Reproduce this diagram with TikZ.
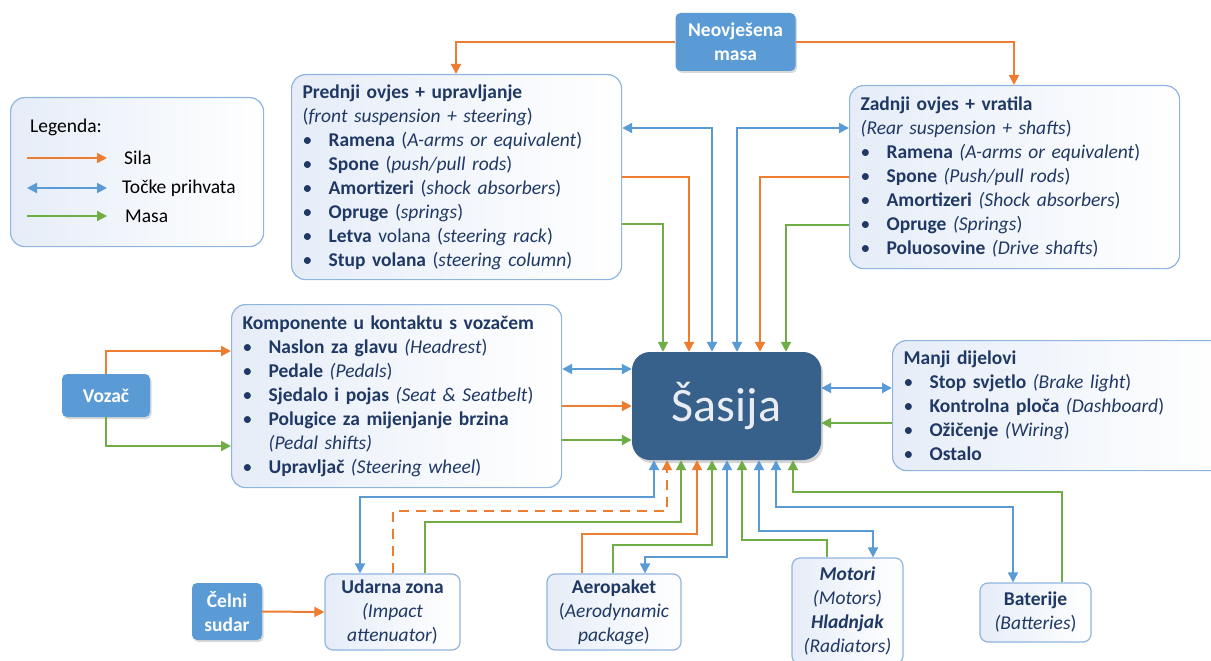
\documentclass[tikz,border=0pt]{standalone}
\usepackage{fontspec}
\setmainfont{Carlito}
\usetikzlibrary{positioning,calc,arrows.meta,shadows}
\definecolor{textNavy}{HTML}{1F3864}
\definecolor{boxLine}{HTML}{8FB4DE}
\definecolor{boxFill}{HTML}{E6EDF8}
\definecolor{fillBlue}{HTML}{5B9BD5}
\definecolor{chassisBlue}{HTML}{37608A}
\definecolor{chassisText}{HTML}{E8EDF3}
\definecolor{silaOrange}{HTML}{ED7D31}
\definecolor{tockeBlue}{HTML}{5B9BD5}
\definecolor{masaGreen}{HTML}{70AD47}
\newcommand{\bitem}[1]{\makebox[26pt][l]{\textbullet}#1}
\tikzset{
        boxnode/.style={text=textNavy, font=\fontsize{19.5}{24}\selectfont},
        % List boxes
        node_list/.style={boxnode, align=left, rectangle, rounded corners=14pt, draw=boxLine, line width=1.2pt, left color=boxFill, right color=white, anchor=north west, inner xsep=11pt, inner ysep=3pt},
        % Small part boxes
        node_part/.style={boxnode, align=center, rectangle, rounded corners=8pt, draw=boxLine, line width=1.2pt, left color=boxFill, right color=white, inner sep=2pt},
        % Filled source boxes
        node_source/.style={boxnode, align=center, rectangle, rounded corners=5pt, fill=fillBlue, text=white, font=\fontsize{19.5}{24}\selectfont\bfseries, inner sep=2pt, drop shadow={opacity=0.3, shadow xshift=1.5pt, shadow yshift=-2pt}},
        % Chassis
        node_chassis/.style={rectangle, rounded corners=18pt, fill=chassisBlue, text=chassisText, font=\fontsize{48}{56}\selectfont, drop shadow={opacity=0.35, shadow xshift=2pt, shadow yshift=-3pt}},
        % Legend text
        node_legend/.style={anchor=west, inner sep=0pt, font=\fontsize{19.5}{24}\selectfont}
}
\begin{document}
\begin{tikzpicture}[
            x=1pt, y=-1pt,
            >={Triangle[length=10pt,width=10pt]},
            arrow_force/.style={->, draw=silaOrange, line width=2pt},
            arrow_mount/.style={<->, draw=tockeBlue, line width=2pt},
            arrow_mass/.style={->, draw=masaGreen, line width=2pt}
        ]
            \useasboundingbox (0,0) rectangle (1211,661);
            \clip (0,0) rectangle (1211,661);

            % Legend
            \node[node_list, text width=231pt, minimum height=149pt] (legend) at (10,97) {};
            \node[node_legend] (lgTitle) at (30,127) {Legenda:};
            \node[node_legend] (lgSila) at (124,158) {Sila};
            \node[node_legend] (lgTocke) at (122,188) {Točke prihvata};
            \node[node_legend] (lgMasa) at (125,216) {Masa};
            \draw[arrow_force] ([xshift=-97pt]lgSila.west) -- ([xshift=-17pt]lgSila.west);
            \draw[arrow_mount] ([xshift=-95pt]lgTocke.west) -- ([xshift=-15pt]lgTocke.west);
            \draw[arrow_mass] ([xshift=-98pt]lgMasa.west) -- ([xshift=-18pt]lgMasa.west);

            % Chassis and sources
            \node[node_chassis, minimum width=189pt, minimum height=108pt] (sasija) at (726.5,406) {Šasija};
            \node[node_source, minimum width=120pt, minimum height=58pt] (neo) at (735.5,42) {Neovješena\\masa};
            \node[node_source, minimum width=88pt, minimum height=43pt] (vozac) at (106,395.5) {Vozač};
            \node[node_source, minimum width=70pt, minimum height=57pt] (celni) at (227,611.5) {Čelni\\sudar};

            % List boxes
            \node[node_list, text width=308pt, minimum height=205pt] (prednji) at (291,74) {
                \textbf{Prednji ovjes + upravljanje}\\
                (\textit{front suspension + steering})\\
                \bitem{\textbf{Ramena} (\textit{A-arms or equivalent})}\\
                \bitem{\textbf{Spone} (\textit{push/pull rods})}\\
                \bitem{\textbf{Amortizeri} (\textit{shock absorbers})}\\
                \bitem{\textbf{Opruge} (\textit{springs})}\\
                \bitem{\textbf{Letva} volana (\textit{steering rack})}\\
                \bitem{\textbf{Stup volana} (\textit{steering column})}};
            \node[node_list, text width=308pt, minimum height=183pt] (zadnji) at (849,85) {
                \textbf{Zadnji ovjes + vratila}\\
                \textit{(Rear suspension + shafts})\\
                \bitem{\textbf{Ramena} \textit{(A-arms or equivalent})}\\
                \bitem{\textbf{Spone} \textit{(Push/pull rods})}\\
                \bitem{\textbf{Amortizeri} \textit{(Shock absorbers})}\\
                \bitem{\textbf{Opruge} \textit{(Springs})}\\
                \bitem{\textbf{Poluosovine} \textit{(Drive shafts})}};
            \node[node_list, text width=308pt, minimum height=183pt] (komp) at (231,304) {
                \textbf{Komponente u kontaktu s vozačem}\\
                \bitem{\textbf{Naslon za glavu} \textit{(Headrest})}\\
                \bitem{\textbf{Pedale} \textit{(Pedals})}\\
                \bitem{\textbf{Sjedalo i pojas} \textit{(Seat \& Seatbelt})}\\
                \bitem{\textbf{Polugice za mijenjanje brzina}}\\
                \hspace*{26pt}\textit{(Pedal shifts)}\\
                \bitem{\textbf{Upravljač} \textit{(Steering wheel})}};
            \node[node_list, text width=311pt, minimum height=130pt] (manji) at (892,340) {
                \textbf{Manji dijelovi}\\
                \bitem{\textbf{Stop svjetlo} \textit{(Brake light})}\\
                \bitem{\textbf{Kontrolna ploča} \textit{(Dashboard})}\\
                \bitem{\textbf{Ožičenje} \textit{(Wiring})}\\
                \bitem{\textbf{Ostalo}}};

            % Part boxes
            \node[node_part, minimum width=135pt, minimum height=76pt] (udarna) at (392.5,612) {\textbf{Udarna zona}\\\textit{(Impact}\\\textit{attenuator})};
            \node[node_part, minimum width=134pt, minimum height=76pt] (aero) at (614,612) {\textbf{Aeropaket}\\(\textit{Aerodynamic}\\\textit{package})};
            \node[node_part, minimum width=111pt, minimum height=106pt] (motori) at (847.5,611) {\textbf{\textit{Motori}}\\\textit{(Motors)}\\\textbf{\textit{Hladnjak}}\\\textit{(Radiators)}};
            \node[node_part, minimum width=111pt, minimum height=59pt] (baterije) at (1035.5,612.5) {\textbf{Baterije}\\\textit{(Batteries})};

            % Unsprung mass
            \draw[arrow_force] (neo.west) -| (456,0 |- prednji.north);
            \draw[arrow_force] (neo.east) -| (1014,0 |- zadnji.north);
            % Front and rear suspension
            \draw[arrow_mount] (prednji.east |- 0,128) -| (712,0 |- sasija.north);
            \draw[arrow_force] (prednji.east |- 0,177) -| (689,0 |- sasija.north);
            \draw[arrow_mass] (prednji.east |- 0,224) -| (663,0 |- sasija.north);
            \draw[arrow_mount] (zadnji.west |- 0,128) -| (737,0 |- sasija.north);
            \draw[arrow_force] (zadnji.west |- 0,177) -| (760,0 |- sasija.north);
            \draw[arrow_mass] (zadnji.west |- 0,225) -| (786,0 |- sasija.north);
            % Driver side
            \draw[arrow_force] (vozac.north) |- (komp.west |- 0,351);
            \draw[arrow_mass] (vozac.south) |- (komp.west |- 0,446);
            \draw[arrow_mount] (komp.east |- 0,369) -- (sasija.west |- 0,369);
            \draw[arrow_force] (komp.east |- 0,406) -- (sasija.west |- 0,406);
            \draw[arrow_mass] (komp.east |- 0,440) -- (sasija.west |- 0,440);
            % Small parts
            \draw[arrow_mount] (sasija.east |- 0,388) -- (manji.west |- 0,388);
            \draw[arrow_mass] (manji.west |- 0,423) -- (sasija.east |- 0,423);
            % Bottom
            \draw[arrow_force] (celni.east) -- (udarna.west);
            \draw[arrow_mount] (654,0 |- sasija.south) -- (654,497) -| (360,0 |- udarna.north);
            \draw[arrow_force, dash pattern=on 10pt off 7pt] (393,0 |- udarna.north) |- (667,511) -- (667,0 |- sasija.south);
            \draw[arrow_mass] (425,0 |- udarna.north) |- (681,522) -- (681,0 |- sasija.south);
            \draw[arrow_force] (582,0 |- aero.north) |- (697,534) -- (697,0 |- sasija.south);
            \draw[arrow_mass] (613,0 |- aero.north) |- (712,545) -- (712,0 |- sasija.south);
            \draw[arrow_mount] (727,0 |- sasija.south) -- (727,557) -| (645,0 |- aero.north);
            \draw[arrow_mass] (827,0 |- motori.north) |- (742,540) -- (742,0 |- sasija.south);
            \draw[arrow_mount] (759,0 |- sasija.south) -- (759,531) -| (873,0 |- motori.north);
            \draw[arrow_mount] (776,0 |- sasija.south) -- (776,507) -| (1013,0 |- baterije.north);
            \draw[arrow_mass] (1062,0 |- baterije.north) |- (793,492) -- (793,0 |- sasija.south);
\end{tikzpicture}
\end{document}
